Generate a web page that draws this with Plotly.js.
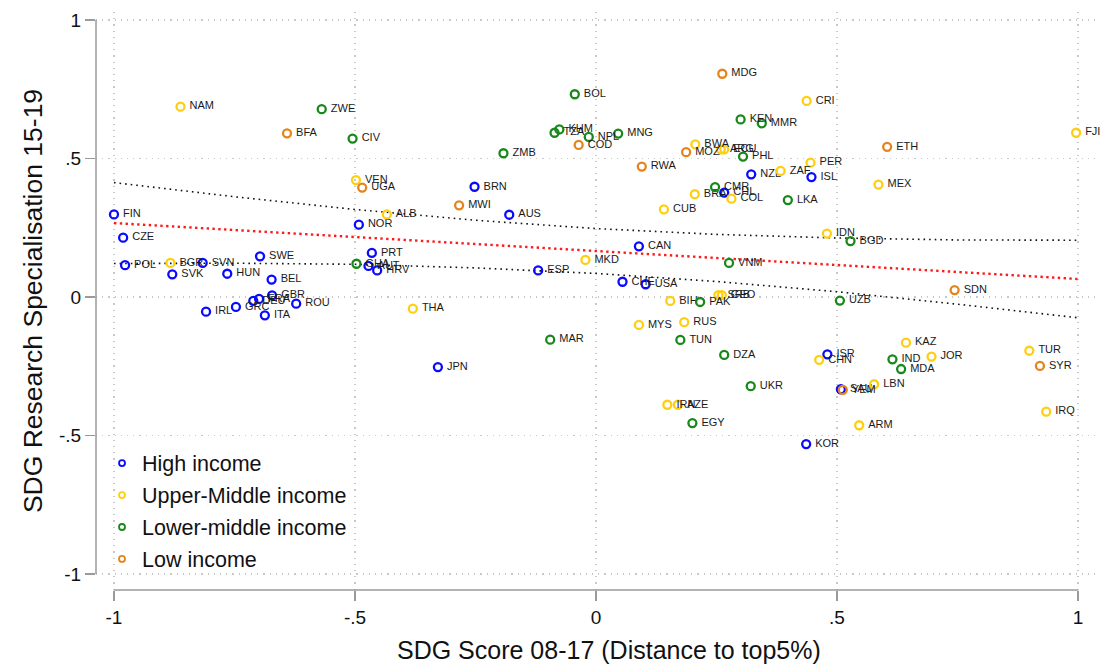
<!DOCTYPE html>
<html>
<head>
<meta charset="utf-8">
<script src="https://cdn.plot.ly/plotly-3.0.1.min.js"></script>
<style>html,body{margin:0;padding:0;background:#fff;}#chart{width:1106px;height:669px;}</style>
</head>
<body>
<div id="chart"></div>
<script>
// ---- data ----
const highCodes = ["FIN","CZE","POL","SVN","SVK","HUN","SWE","BEL","GBR","DEU","FRA","GRC","IRL","ITA","ROU","BRN","AUS","NOR","PRT","AUT","HRV","ESP","NZL","CHL","CAN","ISL","CHE","USA","ISR","SAU","KOR","JPN"];
const highX = [-1.0,-0.981,-0.977,-0.816,-0.879,-0.765,-0.697,-0.673,-0.672,-0.711,-0.699,-0.747,-0.809,-0.687,-0.622,-0.252,-0.180,-0.492,-0.465,-0.472,-0.454,-0.120,0.322,0.266,0.089,0.447,0.055,0.103,0.480,0.508,0.436,-0.328];
const highY = [0.298,0.214,0.115,0.123,0.082,0.084,0.147,0.063,0.006,-0.014,-0.007,-0.036,-0.053,-0.066,-0.024,0.398,0.297,0.261,0.159,0.112,0.096,0.096,0.443,0.377,0.183,0.433,0.055,0.046,-0.207,-0.333,-0.531,-0.253];

const umCodes = ["BGR","NAM","VEN","ALB","THA","MKD","BWA","ARG","ECU","ZAF","BRA","COL","CUB","CRI","FJI","PER","MEX","IDN","SRB","GEO","BIH","MYS","RUS","IRN","AZE","KAZ","TUR","CHN","JOR","LBN","IRQ","ARM"];
const umX = [-0.883,-0.862,-0.498,-0.434,-0.380,-0.022,0.206,0.259,0.266,0.383,0.205,0.281,0.141,0.437,0.996,0.445,0.586,0.479,0.254,0.261,0.154,0.089,0.183,0.148,0.170,0.643,0.899,0.463,0.696,0.577,0.934,0.546];
const umY = [0.123,0.687,0.422,0.298,-0.042,0.134,0.551,0.533,0.533,0.455,0.371,0.355,0.316,0.708,0.593,0.485,0.406,0.229,0.007,0.007,-0.014,-0.101,-0.091,-0.389,-0.389,-0.165,-0.194,-0.227,-0.215,-0.315,-0.414,-0.463];

const lmCodes = ["ZWE","CIV","ZMB","GHA","BOL","KHM","TZA","NPL","MNG","KEN","MMR","PHL","CMR","LKA","VNM","BGD","PAK","MAR","TUN","DZA","UKR","EGY","UZB","IND","MDA"];
const lmX = [-0.569,-0.505,-0.192,-0.497,-0.044,-0.076,-0.086,-0.015,0.046,0.300,0.344,0.305,0.247,0.398,0.276,0.528,0.216,-0.095,0.175,0.266,0.321,0.200,0.506,0.615,0.633];
const lmY = [0.678,0.572,0.519,0.120,0.732,0.605,0.593,0.578,0.590,0.641,0.627,0.507,0.397,0.350,0.123,0.202,-0.018,-0.154,-0.155,-0.209,-0.322,-0.455,-0.013,-0.225,-0.260];

const lowCodes = ["BFA","UGA","MWI","MDG","COD","MOZ","RWA","ETH","SDN","SYR","YEM"];
const lowX = [-0.641,-0.485,-0.284,0.262,-0.036,0.187,0.095,0.604,0.744,0.921,0.512];
const lowY = [0.591,0.395,0.331,0.806,0.549,0.523,0.471,0.542,0.025,-0.249,-0.335];

// fitted line and confidence bounds
const fitX = [-1,-0.75,-0.5,-0.25,0,0.25,0.5,0.75,1];
const fitY = [0.267,0.242,0.217,0.191,0.166,0.141,0.116,0.090,0.065];
const ciUpper = [0.413,0.362,0.316,0.277,0.247,0.226,0.213,0.206,0.205];
const ciLower = [0.121,0.122,0.118,0.105,0.085,0.056,0.019,-0.026,-0.075];

const tickVals = [-1,-0.5,0,0.5,1];
const tickText = ["-1","-.5","0",".5","1"];

const groupNames = ["High income","Upper-Middle income","Lower-middle income","Low income"];
const groupColors = ["#0a0aff","#ffcf0f","#17891a","#e6841c"];

const xTitle = "SDG Score 08-17 (Distance to top5%)";
const yTitle = "SDG Research Specialisation 15-19";

// ---- chart ----
const FONT = "Liberation Sans, Arial, Helvetica, sans-serif";
function group(codes, xs, ys, color) {
  return {
    type: "scatter", mode: "markers+text", showlegend: false,
    x: xs, y: ys, text: codes.map(c => "\u00a0" + c),
    textposition: "middle right",
    textfont: {family: FONT, size: 11, color: "#1a1a1a"},
    marker: {symbol: "circle-open", size: 8, color: color, line: {color: color, width: 2.3}},
    cliponaxis: false, hoverinfo: "skip"
  };
}
function legendItem(i) {
  return {
    type: "scatter", mode: "markers", name: groupNames[i], legendgroup: "g" + i,
    x: [null], y: [null], hoverinfo: "skip",
    marker: {symbol: "circle-open", size: 6, color: groupColors[i], line: {color: groupColors[i], width: 1.8}}
  };
}
const traces = [
  {type:"scatter", mode:"lines", x: fitX, y: ciUpper, showlegend:false, hoverinfo:"skip",
   line:{color:"#111", width:1.6, dash:"1.6px,4px"}},
  {type:"scatter", mode:"lines", x: fitX, y: ciLower, showlegend:false, hoverinfo:"skip",
   line:{color:"#111", width:1.6, dash:"1.6px,4px"}},
  {type:"scatter", mode:"lines", x: fitX, y: fitY, showlegend:false, hoverinfo:"skip",
   line:{color:"#ff1a1a", width:2.4, dash:"2.4px,3.4px"}},
  group(highCodes, highX, highY, groupColors[0]),
  group(umCodes, umX, umY, groupColors[1]),
  group(lmCodes, lmX, lmY, groupColors[2]),
  group(lowCodes, lowX, lowY, groupColors[3]),
  legendItem(0), legendItem(1), legendItem(2), legendItem(3)
];

const axisCommon = {
  tickmode: "array", tickvals: tickVals, ticktext: tickText,
  showgrid: true, gridcolor: "#c8c8c8", gridwidth: 1.2, griddash: "1.2px,5px",
  zeroline: false, showline: false,
  ticks: "outside", ticklen: 10, tickcolor: "#9a9a9a", tickwidth: 1.2,
  tickfont: {family: FONT, size: 19, color: "#111"}
};

const layout = {
  width: 1106, height: 669,
  margin: {l: 96, r: 6, t: 12, b: 79},
  paper_bgcolor: "#fff", plot_bgcolor: "#fff",
  showlegend: true,
  legend: {x: 0.006, y: 0.255, xanchor: "left", yanchor: "top",
           font: {family: FONT, size: 21.5, color: "#111"},
           bgcolor: "rgba(0,0,0,0)", tracegroupgap: 1, itemwidth: 30},
  xaxis: Object.assign({}, axisCommon, {
    range: [-1.0373, 1.0456],
    ticklabelstandoff: 0
  }),
  yaxis: Object.assign({}, axisCommon, {
    range: [-1.0578, 1.0289],
    title: {text: yTitle, font: {family: FONT, size: 26.5, color: "#111"}, standoff: 8}
  }),
  annotations: [
    {text: xTitle, xref: "paper", yref: "paper", x: 0.511, y: -0.1038,
     xanchor: "center", yanchor: "middle", showarrow: false,
     font: {family: FONT, size: 25, color: "#111"}}
  ],
  shapes: [
    {type: "line", xref: "paper", yref: "y", x0: 0, x1: 0, y0: -1, y1: 1, line: {color: "#9a9a9a", width: 1.5}},
    {type: "line", xref: "x", yref: "paper", x0: -1, x1: 1, y0: 0, y1: 0, line: {color: "#9a9a9a", width: 1.5}}
  ]
};

Plotly.newPlot("chart", traces, layout, {displayModeBar: false, staticPlot: true});
</script>
</body>
</html>
